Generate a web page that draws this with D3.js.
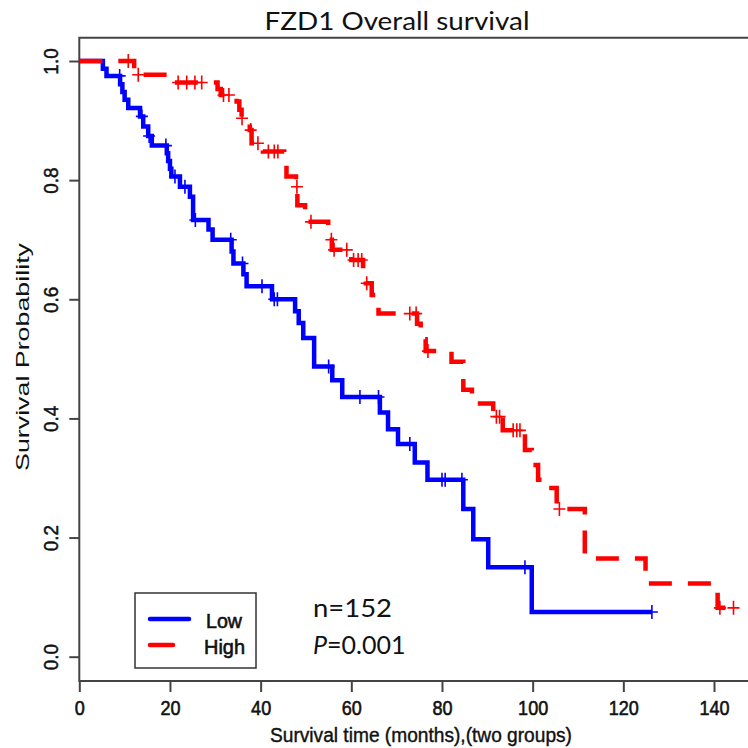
<!DOCTYPE html>
<html><head><meta charset="utf-8">
<script src="https://cdn.jsdelivr.net/npm/d3@7"></script>
<style>html,body{margin:0;padding:0;background:#fff;}svg{display:block;}</style>
</head><body>
<svg id="c" width="748" height="748"></svg>
<script>
// ---- data ----
const title = "FZD1 Overall survival";
const xLabel = "Survival time (months),(two groups)";
const yLabel = "Survival Probability";
const xTicks = [0, 20, 40, 60, 80, 100, 120, 140];
const yTicks = [0.0, 0.2, 0.4, 0.6, 0.8, 1.0];
const groups = ["Low", "High"];
const groupColors = ["#0000ff", "#ff0000"];

const lowTimes = [5.2, 6.0, 9.0, 9.5, 10.0, 10.8, 13.4, 14.1, 15.2, 16.0, 19.3, 19.6, 20.0, 20.3, 22.2, 24.4, 25.1, 28.5, 29.4, 33.6, 34.0, 36.2, 36.9, 42.5, 47.6, 48.4, 49.4, 51.8, 55.8, 58.0, 66.3, 68.1, 70.3, 74.0, 76.8, 84.7, 86.9, 90.2, 99.8];
const lowSurv  = [0.987, 0.975, 0.961, 0.948, 0.935, 0.921, 0.907, 0.890, 0.874, 0.858, 0.845, 0.832, 0.819, 0.806, 0.789, 0.772, 0.733, 0.717, 0.700, 0.680, 0.660, 0.642, 0.622, 0.600, 0.580, 0.560, 0.535, 0.487, 0.464, 0.436, 0.410, 0.382, 0.357, 0.326, 0.297, 0.248, 0.197, 0.150, 0.075];
const lowCensor = [8.9, 13.8, 15.4, 19.1, 21.1, 23.3, 25.6, 33.4, 36.0, 40.3, 43.0, 43.7, 55.0, 61.9, 66.0, 72.9, 80.0, 80.7, 84.4, 98.3, 126.3];
const lowEnd = 126.3;

const highTimes = [12.1, 20.0, 30.5, 31.2, 34.7, 35.3, 35.8, 37.6, 38.0, 40.5, 45.2, 45.7, 47.8, 48.1, 49.8, 54.9, 55.7, 60.0, 62.6, 63.2, 64.5, 65.3, 66.0, 74.5, 75.3, 76.0, 76.4, 82.1, 84.7, 86.6, 91.3, 93.4, 98.3, 99.8, 101.2, 103.3, 105.3, 111.5, 124.9, 140.8];
const highSurv  = [0.977, 0.964, 0.953, 0.943, 0.932, 0.918, 0.904, 0.884, 0.862, 0.848, 0.834, 0.806, 0.789, 0.758, 0.730, 0.700, 0.683, 0.666, 0.646, 0.627, 0.607, 0.593, 0.576, 0.559, 0.546, 0.533, 0.513, 0.495, 0.448, 0.425, 0.403, 0.380, 0.347, 0.322, 0.297, 0.283, 0.248, 0.165, 0.123, 0.082];
const highCensor = [10.8, 13.0, 21.8, 23.7, 25.5, 27.0, 31.8, 33.0, 35.9, 37.8, 39.4, 41.7, 43.0, 43.8, 48.0, 51.1, 55.6, 56.2, 59.0, 60.5, 61.5, 62.3, 63.4, 72.9, 74.3, 76.9, 92.0, 92.7, 95.7, 96.5, 97.2, 105.9, 141.3, 144.3];
const highEnd = 145.2;

const annN = "n=152";
const annP = "=0.001";

// ---- layout ----
const svg = d3.select("#c");
const L = 79.3, T = 37.7, B = 681;
const x = d3.scaleLinear().domain([0, 140]).range([79.3, 714]);
const y = d3.scaleLinear().domain([0, 1]).range([656.7, 61]);
const axisFont = "'Liberation Sans',Arial,sans-serif";

// frame
svg.append("path")
  .attr("d", `M760,${T}H${L}V${B}H760`)
  .attr("fill", "none").attr("stroke", "#444").attr("stroke-width", 2);

// x axis
const xa = svg.append("g").attr("transform", `translate(0,${B})`)
  .call(d3.axisBottom(x).tickValues(xTicks).tickFormat(d3.format("d")).tickSize(11).tickPadding(8));
xa.select(".domain").remove();
xa.selectAll("line").attr("stroke", "#444").attr("stroke-width", 2);
xa.selectAll("text").attr("font-family", axisFont).attr("font-size", 21).attr("fill", "#111")
  .attr("stroke", "#111").attr("stroke-width", 0.6)
  .attr("transform", "scale(0.86,1)");

// y axis
const ya = svg.append("g").attr("transform", `translate(${L},0)`)
  .call(d3.axisLeft(y).tickValues(yTicks).tickFormat(d3.format(".1f")).tickSize(10).tickPadding(0));
ya.select(".domain").remove();
ya.selectAll("line").attr("stroke", "#444").attr("stroke-width", 2);
ya.selectAll("text")
  .attr("font-family", axisFont).attr("font-size", 21).attr("fill", "#111")
  .attr("stroke", "#111").attr("stroke-width", 0.5)
  .attr("x", null).attr("dy", null)
  .attr("text-anchor", "middle")
  .attr("transform", "translate(-21.5,0) rotate(-90) scale(0.9,1)");

// axis titles
svg.append("text").attr("x", 421).attr("y", 742).attr("text-anchor", "middle")
  .attr("font-family", axisFont).attr("font-size", 20).attr("fill", "#111")
  .attr("stroke", "#111").attr("stroke-width", 0.4)
  .attr("textLength", 302).attr("lengthAdjust", "spacingAndGlyphs").text(xLabel);
svg.append("text").attr("transform", "translate(29,357) rotate(-90)").attr("text-anchor", "middle")
  .attr("font-family", axisFont).attr("font-size", 19).attr("fill", "#111")
  .attr("textLength", 228).attr("lengthAdjust", "spacingAndGlyphs").text(yLabel);

// title
svg.append("text").attr("x", 397).attr("y", 30).attr("text-anchor", "middle")
  .attr("font-family", "Lato, 'Open Sans', sans-serif").attr("font-size", 25).attr("fill", "#111")
  .attr("textLength", 265).attr("lengthAdjust", "spacingAndGlyphs").text(title);

// curves
function stepData(times, surv, end) {
  const pts = [[0, 1]];
  times.forEach((t, i) => pts.push([t, surv[i]]));
  pts.push([end, surv[surv.length - 1]]);
  return pts;
}
function survAt(times, surv, t) {
  let s = 1;
  for (let i = 0; i < times.length; i++) if (times[i] <= t) s = surv[i];
  return s;
}
const line = d3.line().x(d => x(d[0])).y(d => y(d[1])).curve(d3.curveStepAfter);
const series = [
  {times: lowTimes, surv: lowSurv, cens: lowCensor, end: lowEnd, color: groupColors[0], dash: null},
  {times: highTimes, surv: highSurv, cens: highCensor, end: highEnd, color: groupColors[1], dash: "23,16"}
];
series.forEach(s => {
  svg.append("path").datum(stepData(s.times, s.surv, s.end))
    .attr("d", line).attr("fill", "none").attr("stroke", s.color)
    .attr("stroke-width", 4.5).attr("stroke-dasharray", s.dash);
  svg.append("g").selectAll("path").data(s.cens).join("path")
    .attr("d", t => {
      const cx = x(t), cy = y(survAt(s.times, s.surv, t));
      return `M${cx - 6},${cy}H${cx + 6}M${cx},${cy - 7}V${cy + 7}`;
    })
    .attr("stroke", s.color).attr("stroke-width", 1.6).attr("fill", "none");
});

// legend
const lg = svg.append("g");
lg.append("rect").attr("x", 135).attr("y", 593).attr("width", 121).attr("height", 75)
  .attr("fill", "#fff").attr("stroke", "#333").attr("stroke-width", 1.5);
const legY = [619, 645];
const legLen = [39, 23];
groups.forEach((g, i) => {
  lg.append("line").attr("x1", 150).attr("x2", 150 + legLen[i]).attr("y1", legY[i]).attr("y2", legY[i])
    .attr("stroke", groupColors[i]).attr("stroke-width", 4.5).attr("stroke-linecap", "round");
  lg.append("text").attr("x", i === 0 ? 206 : 204).attr("y", legY[i] + 9)
    .attr("font-family", axisFont).attr("font-size", 20).attr("fill", "#111")
    .attr("stroke", "#111").attr("stroke-width", 0.6)
    .attr("textLength", i === 0 ? 36 : 41).attr("lengthAdjust", "spacingAndGlyphs").text(g);
});

// annotations
const annFont = "Lato, 'Open Sans', sans-serif";
svg.append("text").attr("x", 313).attr("y", 616.5).attr("font-family", annFont).attr("font-size", 25)
  .attr("fill", "#111").attr("textLength", 79).attr("lengthAdjust", "spacingAndGlyphs").text(annN);
const pt = svg.append("text").attr("x", 313).attr("y", 653.5).attr("font-family", annFont).attr("font-size", 25)
  .attr("fill", "#111");
pt.append("tspan").attr("font-style", "italic").text("P");
pt.append("tspan").text(annP);
</script>
</body></html>
